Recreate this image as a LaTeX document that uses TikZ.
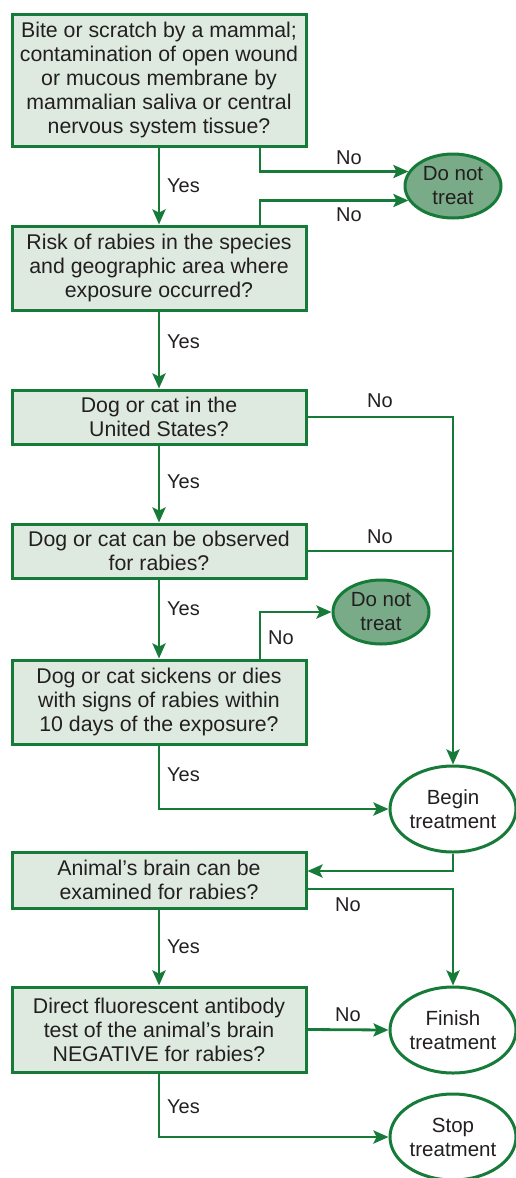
\documentclass[tikz,border=0pt]{standalone}
\usepackage{fontspec}
\setmainfont{Liberation Sans}
\usetikzlibrary{shapes.geometric,arrows.meta,positioning}
\definecolor{lgreen}{HTML}{167A38}
\definecolor{boxfill}{HTML}{DEEADF}
\definecolor{ellfill}{HTML}{7AAB88}
\definecolor{txt}{HTML}{231F20}
\begin{document}
\begin{tikzpicture}[x=1pt,y=-1pt,
  every node/.style={font=\fontsize{20}{24}\selectfont, text=txt},
  qbox/.style={draw=lgreen, line width=3pt, fill=boxfill, rectangle, minimum width=294pt, align=center, inner sep=0pt, font=\fontsize{21.3}{24}\selectfont},
  endell/.style={draw=lgreen, line width=3pt, ellipse, align=center, inner sep=0pt, fill=white, font=\fontsize{20.5}{24}\selectfont},
  darkell/.style={endell, fill=ellfill, minimum width=96pt, minimum height=64pt},
  lightell/.style={endell, minimum width=126pt, minimum height=86pt},
  conn/.style={draw=lgreen, line width=2.8pt},
  arr/.style={conn, -{Stealth[length=15pt,width=13pt,inset=3pt]}},
  lbl/.style={anchor=west, inner sep=0pt}
]
\useasboundingbox (0,0) rectangle (516,1178);

\node[qbox, minimum height=132pt] (b1) at (159,80) {Bite or scratch by a mammal;\\contamination of open wound\\or mucous membrane by\\mammalian saliva or central\\nervous system tissue?};
\node[qbox, minimum height=84pt] (b2) at (159,268) {Risk of rabies in the species\\and geographic area where\\exposure occurred?};
\node[qbox, minimum height=54pt] (b3) at (159,417) {Dog or cat in the\\United States?};
\node[qbox, minimum height=54pt] (b4) at (159,551) {Dog or cat can be observed\\for rabies?};
\node[qbox, minimum height=84pt] (b5) at (159,702) {Dog or cat sickens or dies\\with signs of rabies within\\10 days of the exposure?};
\node[qbox, minimum height=56pt] (b6) at (159,880) {Animal’s brain can be\\examined for rabies?};
\node[qbox, minimum height=85pt] (b7) at (159,1029.5) {Direct fluorescent antibody\\test of the animal’s brain\\NEGATIVE for rabies?};

\node[darkell] (dnt1) at (453,186) {Do not\\treat};
\node[darkell] (dnt2) at (381,612) {Do not\\treat};
\node[lightell] (begin) at (453,809) {Begin\\treatment};
\node[lightell] (finish) at (453,1030) {Finish\\treatment};
\node[lightell] (stop) at (453,1137) {Stop\\treatment};

\coordinate (x260) at (260,0);

% box 1
\draw[arr] (b1.south) -- (b2.north);
\node[lbl] (y1) at (167,186) {Yes};
\draw[arr] (b1.south -| x260) |- (dnt1.162);
\node (n1) at (349,158) {No};
% box 2
\draw[arr] (b2.north -| x260) |- (dnt1.198);
\node (n2) at (349,215) {No};
\draw[arr] (b2.south) -- (b3.north);
\node[lbl] (y2) at (167,342) {Yes};
% box 3
\draw[arr] (b3.east) -| (begin.north);
\node (n3) at (380,401) {No};
\draw[arr] (b3.south) -- (b4.north);
\node[lbl] (y3) at (167,482) {Yes};
% box 4
\draw[conn] (b4.east) -- (b4.east -| begin.north);
\node (n4) at (380,537) {No};
\draw[arr] (b4.south) -- (b5.north);
\node[lbl] (y4) at (167,609) {Yes};
% box 5
\draw[arr] (b5.north -| x260) |- (dnt2.west);
\node (n5) at (281,638) {No};
\draw[arr] (b5.south) |- (begin.west);
\node[lbl] (y5) at (167,775) {Yes};
% begin -> box 6
\draw[arr] (begin.south) |- ([yshift=9pt]b6.east);
% box 6
\draw[arr] ([yshift=-9pt]b6.east) -| (finish.north);
\node (n6) at (348,905) {No};
\draw[arr] (b6.south) -- (b7.north);
\node[lbl] (y6) at (167,947) {Yes};
% box 7
\draw[arr] (b7.east) -- (finish.west);
\node (n7) at (348,1015) {No};
\draw[arr] (b7.south) |- (stop.west);
\node[lbl] (y7) at (167,1107) {Yes};
\end{tikzpicture}
\end{document}
